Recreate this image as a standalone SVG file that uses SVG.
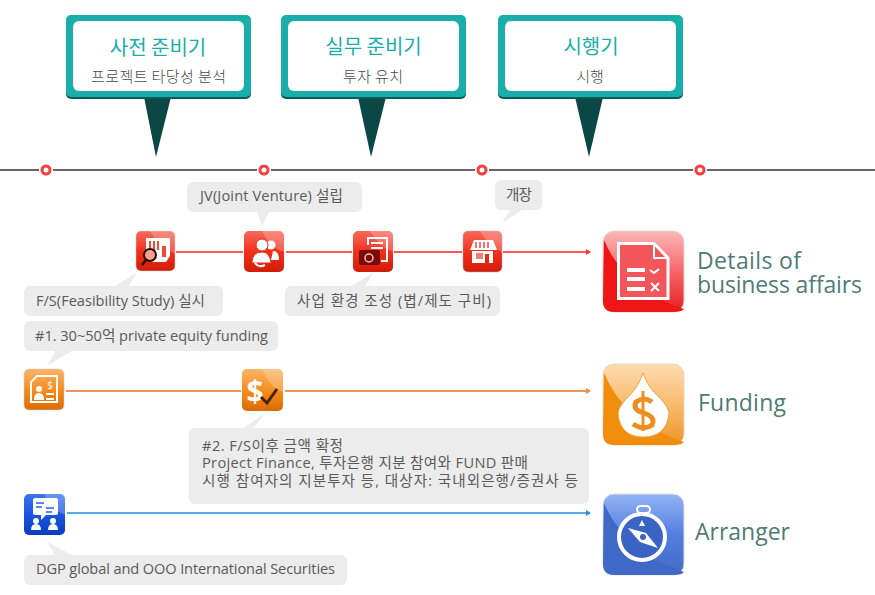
<svg xmlns="http://www.w3.org/2000/svg" width="875" height="595" viewBox="0 0 875 595">
<style>
text{font-family:"Open Sans","Noto Sans CJK KR","Noto Sans",sans-serif}
.t{font-size:14.6px;fill:#5a5a5a}
.k{font-size:14.6px;fill:#5a5a5a;line-height:1}
.h{font-size:20px;fill:#19aeaa;font-family:"Noto Sans CJK KR",sans-serif;font-weight:400;text-anchor:middle}
.s{font-size:15px;fill:#4a4a4a;text-anchor:middle;font-family:"Noto Sans CJK KR",sans-serif;font-weight:300}
.b{font-size:23px;fill:#4f7b78}
.bub{fill:#ececec}
.tl{stroke:#6f6468;stroke-width:2}
.dot{fill:#fff;stroke:#f93d3d;stroke-width:3}
.w{fill:#fff}
.wl{fill:none;stroke:#fff;stroke-width:2}
.gl{fill:#fff;opacity:.22}
</style>
<defs>
<linearGradient id="gR" x1="0" y1="0" x2="0" y2="1"><stop offset="0" stop-color="#f86a5c"/><stop offset=".5" stop-color="#f2301c"/><stop offset="1" stop-color="#d21c08"/></linearGradient>
<linearGradient id="gO" x1="0" y1="0" x2="0" y2="1"><stop offset="0" stop-color="#fdb468"/><stop offset=".55" stop-color="#f58a1a"/><stop offset="1" stop-color="#d96c06"/></linearGradient>
<linearGradient id="gB" x1="0" y1="0" x2="0" y2="1"><stop offset="0" stop-color="#3d76ee"/><stop offset=".5" stop-color="#1a55e0"/><stop offset="1" stop-color="#0a3cc0"/></linearGradient>
<linearGradient id="gBR" x1="0" y1="0" x2="0" y2="1"><stop offset="0" stop-color="#fdb8b8"/><stop offset=".6" stop-color="#f4565a"/><stop offset="1" stop-color="#e82020"/></linearGradient>
<linearGradient id="gBO" x1="0" y1="0" x2="0" y2="1"><stop offset="0" stop-color="#fddcae"/><stop offset=".55" stop-color="#f8b768"/><stop offset="1" stop-color="#ee9326"/></linearGradient>
<linearGradient id="gBB" x1="0" y1="0" x2="0" y2="1"><stop offset="0" stop-color="#94b4f4"/><stop offset=".5" stop-color="#5280de"/><stop offset="1" stop-color="#4468c4"/></linearGradient>
<marker id="aR" markerWidth="5" markerHeight="6" refX="4" refY="3" orient="auto" markerUnits="userSpaceOnUse"><path d="M0 0L5 3L0 6z" fill="#f23c3c"/></marker>
<marker id="aO" markerWidth="5" markerHeight="6" refX="4" refY="3" orient="auto" markerUnits="userSpaceOnUse"><path d="M0 0L5 3L0 6z" fill="#ee8a44"/></marker>
<marker id="aB" markerWidth="5" markerHeight="6" refX="4" refY="3" orient="auto" markerUnits="userSpaceOnUse"><path d="M0 0L5 3L0 6z" fill="#2f8fe8"/></marker>
</defs>

<g id="connectors">
<path class="tl" d="M0 170H39M53 170H257M271 170H475M489 170H693M707 170H875"/>
<path d="M176 252H243M286 252H352M394 252H462" stroke="#f75a5a" stroke-width="2" fill="none"/>
<path d="M503 252H590" stroke="#f75a5a" stroke-width="2" fill="none" marker-end="url(#aR)"/>
<path d="M66 391H241" stroke="#f0965a" stroke-width="2" fill="none"/>
<path d="M285 391H590" stroke="#f0965a" stroke-width="2" fill="none" marker-end="url(#aO)"/>
<path d="M67 513H590" stroke="#55a9ee" stroke-width="2" fill="none" marker-end="url(#aB)"/>
<circle class="dot" cx="46" cy="170" r="4"/>
<circle class="dot" cx="264" cy="170" r="4"/>
<circle class="dot" cx="482" cy="170" r="4"/>
<circle class="dot" cx="700" cy="170" r="4"/>
</g>

<g id="phase1">
<path d="M144 97H171L156 157z" fill="#0b4744"/>
<rect x="66" y="17" width="185" height="82" rx="5" fill="#0b5b58"/>
<rect x="66" y="15" width="185" height="82" rx="5" fill="#19aeaa"/>
<rect x="73" y="21" width="171" height="70" rx="6" fill="#fff"/>
<text class="h" x="158" y="55">사전 준비기</text>
<text class="s" x="158.500" y="82" textLength="135">프로젝트 타당성 분석</text>
</g>
<g id="phase2">
<path d="M358 97H386L371 157z" fill="#0b4744"/>
<rect x="281" y="17" width="185" height="82" rx="5" fill="#0b5b58"/>
<rect x="281" y="15" width="185" height="82" rx="5" fill="#19aeaa"/>
<rect x="288" y="21" width="171" height="70" rx="6" fill="#fff"/>
<text class="h" x="373.500" y="54">실무 준비기</text>
<text class="s" x="373" y="82" textLength="60">투자 유치</text>
</g>
<g id="phase3">
<path d="M575 97H603L589 157z" fill="#0b4744"/>
<rect x="498" y="17" width="185" height="82" rx="5" fill="#0b5b58"/>
<rect x="498" y="15" width="185" height="82" rx="5" fill="#19aeaa"/>
<rect x="505" y="21" width="171" height="70" rx="6" fill="#fff"/>
<text class="h" x="591" y="54">시행기</text>
<text class="s" x="590" y="82">시행</text>
</g>

<g id="note-jv">
<path class="bub" d="M257 212H269L262 226z"/>
<rect class="bub" x="187" y="182" width="175" height="30" rx="6"/>
<text class="t" x="200" y="201" textLength="143">JV(Joint Venture) 설립</text>
</g>
<g id="note-open">
<path class="bub" d="M510 210H522L502 223z"/>
<rect class="bub" x="495" y="180" width="47" height="30" rx="6"/>
<text class="t" x="506" y="200" textLength="26">개장</text>
</g>
<g id="node-fs">
<rect x="136" y="231" width="39" height="40" rx="5" fill="url(#gR)" stroke="#c8d0cc" stroke-width=".5"/>
<path class="gl" d="M150 231H170Q175 231 175 236V254Q160 248 150 231z"/>
<path class="w" d="M146 238H170V256L166 262H150V256H146z"/>
<path d="M149 241h2v9h-2zM153 241h2v9h-2zM157 241h2v9h-2zM162 246h4v11h-4z" fill="#f04a3a"/>
<circle cx="150" cy="255" r="6" fill="#f7a090" stroke="#2a0806" stroke-width="2"/>
<path d="M146 260L142 265" stroke="#2a0806" stroke-width="2.500"/>
</g>
<g id="note-fs">
<path class="bub" d="M113 287H128L137 273z"/>
<rect class="bub" x="24" y="286" width="199" height="30" rx="6"/>
<text class="t" x="36" y="306" textLength="169">F/S(Feasibility Study) 실시</text>
</g>
<g id="node-jv">
<rect x="244" y="231" width="40" height="41" rx="5" fill="url(#gR)"/>
<path class="gl" d="M262 231H279Q284 231 284 236V252Q270 248 262 231z"/>
<circle cx="271" cy="245" r="4.500" class="w"/><circle cx="262" cy="245" r="6" class="w" stroke="#e8301c"/>
<path class="w" d="M273 251Q279 251 279 260H271z"/>
<path class="w" d="M252 263Q252 252 262 252Q270 252 271 263z" stroke="#e8301c"/>
<path class="wl" d="M255 263Q259 268 265 265"/>
</g>
<g id="node-env">
<rect x="353" y="231" width="40" height="41" rx="5" fill="url(#gR)"/>
<path class="gl" d="M370 231H388Q393 231 393 236V252Q380 248 370 231z"/>
<path class="wl" d="M368 245V238H387V261H381"/>
<path class="wl" d="M371 243H383M371 248H383"/>
<rect x="359" y="250" width="21" height="15" rx="2" fill="#7a0a08"/>
<circle cx="369" cy="258" r="4" fill="none" stroke="#f7c0b8" stroke-width="1.500"/>
</g>
<g id="note-env">
<path class="bub" d="M350 287H365L373 273z"/>
<rect class="bub" x="285" y="286" width="215" height="30" rx="6"/>
<text class="t" x="297" y="306" textLength="194">사업 환경 조성 (볍/제도 구비)</text>
</g>
<g id="node-shop">
<rect x="463" y="231" width="39" height="41" rx="5" fill="url(#gR)" stroke="#aaa" stroke-width=".5"/>
<path class="gl" d="M480 231H497Q502 231 502 236V252Q490 248 480 231z"/>
<path class="w" d="M474 240H493L497 250H470z"/>
<path d="M476 242v6M480 242v6M484 242v6M488 242v6" stroke="#e8483a" stroke-width="1.500"/>
<path class="w" d="M472 251H493V263H489V254H485V263H472z"/>
<rect x="476" y="253" width="7" height="6" fill="#f08070"/>
</g>
<g id="note-equity">
<path class="bub" d="M55 351H72L48 365z"/>
<rect class="bub" x="24" y="321" width="254" height="30" rx="6"/>
<text class="t" x="35" y="341" textLength="233">#1. 30~50억 private equity funding</text>
</g>
<g id="node-equity">
<rect x="24" y="369" width="40" height="41" rx="5" fill="url(#gO)" stroke="#ccc" stroke-width=".5"/>
<path class="wl" d="M31 382L37 376H57V402H31z"/>
<circle cx="39" cy="389" r="3" class="w"/>
<path class="w" d="M34 400Q34 393 39 393Q44 393 44 400zM46 393H54V395H46zM46 398H54V400H46z"/>
<text x="50" y="389" font-size="10" fill="#fff" text-anchor="middle">$</text>
</g>
<g id="node-amount">
<rect x="242" y="369" width="41" height="42" rx="5" fill="url(#gO)"/>
<path class="gl" d="M262 369H278Q283 369 283 374V392Q270 388 262 369z"/>
<text x="255" y="402" font-size="30" font-weight="700" fill="#fff" text-anchor="middle">$</text>
<path d="M261 397L267 403L277 389" fill="none" stroke="#4a2208" stroke-width="3"/>
</g>
<g id="note-amount">
<path class="bub" d="M242 429H253L264 414z"/>
<rect class="bub" x="189" y="428" width="400" height="76" rx="6"/>
<text class="t"><tspan x="202" y="451" textLength="141">#2. F/S이후 금액 확정</tspan><tspan x="202" y="468" textLength="326">Project Finance, 투자은행 지분 참여와 FUND 판매</tspan><tspan x="202" y="486" textLength="376">시행 참여자의 지분투자 등, 대상자: 국내외은행/증권사 등</tspan></text>
</g>
<g id="node-dgp">
<rect x="24" y="494" width="41" height="41" rx="5" fill="url(#gB)"/>
<path class="gl" d="M44 494H60Q65 494 65 499V515Q52 510 44 494z"/>
<path class="w" d="M35 498H56Q58 498 58 500V513Q58 515 56 515H46L41 520V515H35Q33 515 33 513V500Q33 498 35 498z"/>
<path d="M36 503h8M36 507h6M46 508h8M46 512h6" stroke="#2060e0" stroke-width="1.500"/>
<circle cx="36" cy="521" r="3" class="w"/><circle cx="53" cy="521" r="3" class="w"/>
<path class="w" d="M31 530Q31 524 36 524Q41 524 41 530zM48 530Q48 524 53 524Q58 524 58 530z"/>
</g>
<g id="note-dgp">
<path class="bub" d="M47 542L72 555H55z"/>
<rect class="bub" x="24" y="555" width="323" height="30" rx="6"/>
<text class="t" x="36" y="574" textLength="299">DGP global and OOO International Securities</text>
</g>

<g id="details">
<rect x="603" y="231" width="81" height="81" rx="11" fill="url(#gBR)" stroke="#e4d8d8" stroke-width="1"/>
<path d="M604 240Q625 290 684 309Q682 312 673 312H614Q603 312 603 301z" fill="#ee1616"/>
<path d="M618.500 243.500H654L668 258V298.500H618.500z" fill="#f2555a" stroke="#fff" stroke-width="3"/>
<path d="M654 243.500V258H668" fill="none" stroke="#fff" stroke-width="2"/>
<path d="M627 270H645M627 279H645M627 289H645" stroke="#fff" stroke-width="4"/>
<path d="M650 270L654 273L659 269M651 283L659 291M659 283L651 291" fill="none" stroke="#fff" stroke-width="2"/>
<text class="b"><tspan x="697" y="269" textLength="104">Details of</tspan><tspan x="697" y="293" textLength="165">business affairs</tspan></text>
</g>
<g id="funding">
<rect x="603" y="364" width="81" height="81" rx="11" fill="url(#gBO)" stroke="#e6d8c8" stroke-width="1"/>
<path d="M604 373Q625 423 684 442Q682 445 673 445H614Q603 445 603 434z" fill="#f08d0c"/>
<path class="w" d="M643 373Q648 388 660 398Q669 408 669 413Q667 437 643 437Q620 437 618 413Q618 408 627 398Q638 388 643 373z" stroke="#f6a040"/>
<path d="M652 402Q644 396 636 402Q632 410 644 413Q656 417 652 425Q644 431 633 424" fill="none" stroke="#f08d20" stroke-width="5"/>
<path d="M643 391V431" stroke="#f08d20" stroke-width="3"/>
<text class="b" x="698" y="411" textLength="88">Funding</text>
</g>
<g id="arranger">
<rect x="603" y="494" width="81" height="81" rx="11" fill="url(#gBB)" stroke="#e0e0e0" stroke-width="1"/>
<path d="M604 503Q625 553 684 572Q682 575 673 575H614Q603 575 603 564z" fill="#4068c6"/>
<rect x="637" y="506" width="13" height="7" rx="3.500" fill="none" stroke="#fff" stroke-width="2"/>
<circle cx="642" cy="537" r="23" fill="#3a64c4" stroke="#fff" stroke-width="4"/>
<path class="w" d="M628 528L646 533L658 548L640 542z"/>
<circle cx="643" cy="537" r="3" fill="#3a64c4"/>
<path class="w" d="M642 520L645 526H639z"/>
<text class="b" x="695" y="540" textLength="95">Arranger</text>
</g>
</svg>
